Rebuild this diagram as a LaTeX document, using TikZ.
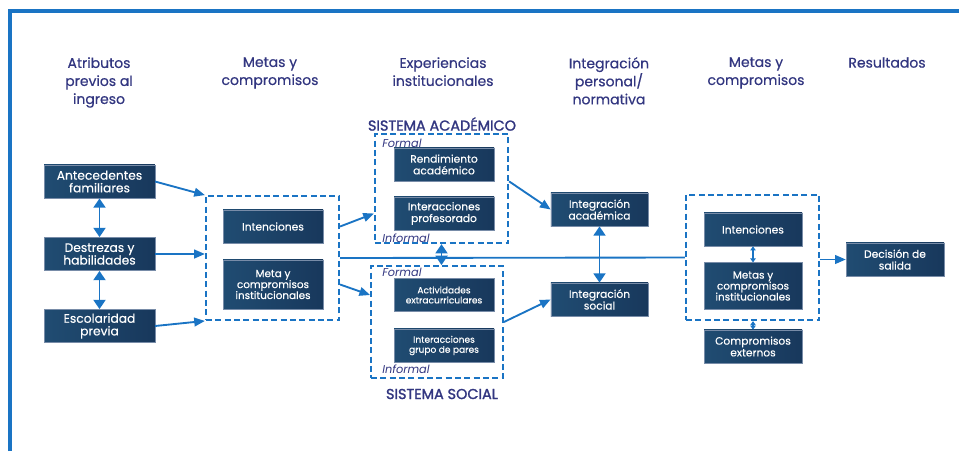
\documentclass[tikz,border=0pt]{standalone}
\usepackage{fontspec}
\setmainfont{Poppins}
\newfontfamily\headfont{Poppins}[FakeBold=0.5]
\newfontfamily\titlefont{Poppins}[FakeBold=1.6]
\newfontfamily\boxfont{Poppins}[FakeBold=0.3]
\usepackage{xcolor}
\usepackage{tikz}
\usetikzlibrary{arrows.meta, positioning, calc}

\definecolor{NavyDark}{RGB}{24,56,92}
\definecolor{NavyLight}{RGB}{32,76,114}
\definecolor{NavyEdge}{RGB}{120,140,168}
\definecolor{LineBlue}{RGB}{26,116,196}
\definecolor{Indigo}{RGB}{50,54,128}

\begin{document}
\begin{tikzpicture}[
        x=0.75pt, y=-0.75pt,
        box/.style={
            rectangle,
            draw=NavyEdge,
            line width=0.3pt,
            left color=NavyLight,
            right color=NavyDark,
            text=white,
            align=center,
            inner sep=1pt,
            minimum width=75pt,
            minimum height=25pt,
            font=\boxfont\fontsize{8}{8.8}\selectfont
        },
        bigbox/.style={
            box,
            minimum width=83pt,
            font=\boxfont\fontsize{9.2}{9.5}\selectfont
        },
        dashbox/.style={
            rectangle,
            draw=LineBlue,
            line width=1.4pt,
            dash pattern=on 4.5pt off 2.5pt
        },
        header/.style={
            anchor=north,
            align=center,
            inner sep=0pt,
            text=Indigo,
            font=\headfont\fontsize{10.5}{13.5}\selectfont
        },
        sistema/.style={
            text=Indigo,
            inner sep=0pt,
            font=\titlefont\fontsize{10.8}{12}\selectfont
        },
        tag/.style={
            anchor=west,
            inner sep=0pt,
            text=Indigo,
            font=\fontsize{8.5}{10}\selectfont\itshape
        },
        arrow/.style={
            -{Triangle[length=8pt,width=6.5pt]},
            line width=1.4pt,
            LineBlue
        },
        darrow/.style={
            {Triangle[length=7pt,width=9pt]}-{Triangle[length=7pt,width=9pt]},
            line width=1.4pt,
            LineBlue
        },
        sarrow/.style={
            {Triangle[length=3pt,width=4pt]}-{Triangle[length=3pt,width=4pt]},
            line width=1.4pt,
            LineBlue
        }
    ]
    \useasboundingbox (0,0) rectangle (959,451);

    % Frame
    \draw[LineBlue, line width=2.6pt] (10,451) -- (10,11) -- (959,11);

    % Column headers
    \node[header] (hAtributos) at (99,57) {Atributos\\previos al\\ingreso};
    \node[header] (hMetasA) at (270,57) {Metas y\\compromisos};
    \node[header] (hExperiencias) at (443,57) {Experiencias\\institucionales};
    \node[header] (hIntegracion) at (609,57) {Integración\\personal/\\normativa};
    \node[header] (hMetasB) at (756,57) {Metas y\\compromisos};
    \node[header] (hResultados) at (887,57) {Resultados};

    % Attributes before entry
    \node[bigbox] (antecedentes) at (99.5,181.5) {Antecedentes\\familiares};
    \node[bigbox] (destrezas) at (99.5,254) {Destrezas y\\habilidades};
    \node[bigbox] (escolaridad) at (99.5,326) {Escolaridad\\previa};

    % Goals and commitments (entry)
    \node[dashbox, minimum width=100pt, minimum height=93pt] (metasA) at (272.5,258) {};
    \node[box] (intenciones) at (273,226.5) {Intenciones};
    \node[box, minimum height=37pt, font=\boxfont\fontsize{7.8}{8.2}\selectfont] (metaInst) at (273,284.5) {Meta y\\compromisos\\institucionales};

    % Academic system
    \node[sistema] (tAcademico) at (442,124) {SISTEMA ACADÉMICO};
    \node[dashbox, minimum width=100pt, minimum height=82pt] (academico) at (441.5,188.5) {};
    \node[tag] (fAcademico) at (382,143) {Formal};
    \node[box] (rendimiento) at (444,164.5) {Rendimiento\\académico};
    \node[box] (profesorado) at (444,213.5) {Interacciones\\profesorado};
    \node[tag] (iAcademico) at (382,238) {Informal};

    % Social system
    \node[dashbox, minimum width=99pt, minimum height=84pt] (social) at (437,322) {};
    \node[tag] (fSocial) at (382,272) {Formal};
    \node[box, font=\boxfont\fontsize{6.8}{7.5}\selectfont] (actividades) at (444,295) {Actividades\\extracurriculares};
    \node[box, font=\boxfont\fontsize{6.8}{7.5}\selectfont] (pares) at (444,345.5) {Interacciones\\grupo de pares};
    \node[tag] (iSocial) at (382,369) {Informal};
    \node[sistema] (tSocial) at (442,394) {SISTEMA SOCIAL};

    % Integration
    \node[box, minimum width=73pt] (intAcad) at (599.5,209.5) {Integración\\académica};
    \node[box, minimum width=73pt] (intSocial) at (599.5,299.5) {Integración\\social};

    % Goals and commitments (later)
    \node[dashbox, minimum width=100pt, minimum height=94pt] (metasB) at (752.5,257.5) {};
    \node[box, minimum width=73.5pt] (intencionesB) at (753,229.5) {Intenciones};
    \node[box, minimum width=73.5pt, minimum height=35pt, font=\boxfont\fontsize{7.8}{8.2}\selectfont] (metasInstB) at (753,286) {Metas y\\compromisos\\institucionales};
    \node[box, minimum width=73.5pt] (externos) at (753,346.5) {Compromisos\\externos};

    % Outcome
    \node[box, minimum width=73.5pt] (decision) at (895,259.5) {Decisión de\\salida};

    % Arrows
    \draw[darrow] (antecedentes) -- (destrezas);
    \draw[darrow] (destrezas) -- (escolaridad);
    \draw[arrow] (antecedentes.east) -- (metasA.north west);
    \draw[arrow] (destrezas.east) -- (destrezas.east -| metasA.west);
    \draw[arrow] (escolaridad.east) -- (metasA.south west);
    \draw[arrow] (metasA.east |- intenciones) -- (academico.west |- profesorado);
    \draw[arrow] (metasA.east |- metaInst) -- (social.west |- actividades);
    \draw[LineBlue, line width=1.4pt] (metasA.east) -- (metasB.west);
    \draw[darrow] (academico.south) -- (academico.south |- social.north);
    \draw[arrow] (academico.east |- rendimiento.south) -- (intAcad.west);
    \draw[arrow] (social.east) -- (intSocial.west);
    \draw[darrow] (intAcad) -- (intSocial);
    \draw[sarrow] (intencionesB) -- (metasInstB);
    \draw[sarrow] (externos.north |- metasB.south) -- (externos.north);
    \draw[arrow] (metasB.east |- decision) -- (decision.west);

\end{tikzpicture}
\end{document}
